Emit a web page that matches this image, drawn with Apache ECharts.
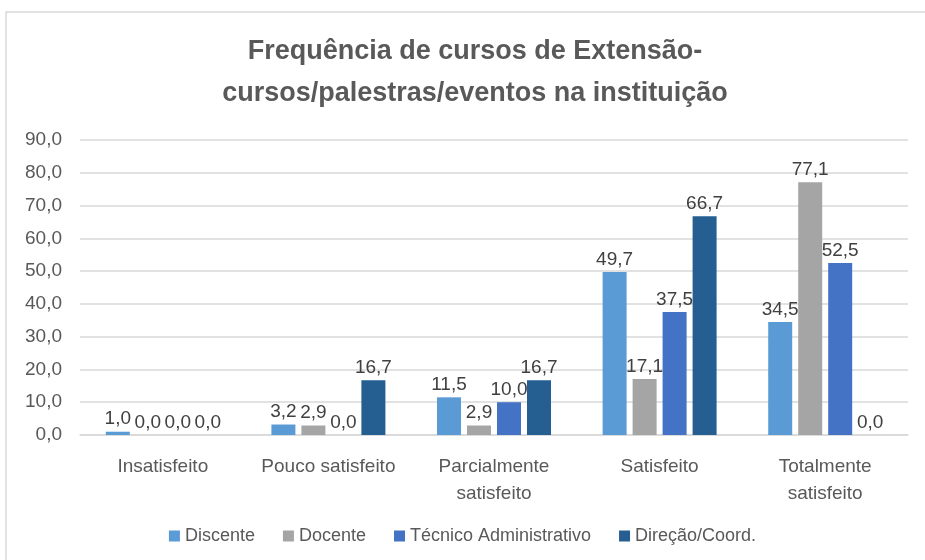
<!DOCTYPE html>
<html>
<head>
<meta charset="UTF-8">
<title>Frequência de cursos de Extensão</title>
<script src="https://cdn.jsdelivr.net/npm/echarts@6/dist/echarts.min.js"></script>
<style>
html, body { margin: 0; padding: 0; background: #fff; }
#container { width: 925px; height: 560px; }
</style>
</head>
<body>
<div id="container"></div>
<script type="text/javascript">
var categorias = ['Insatisfeito', 'Pouco satisfeito', 'Parcialmente\nsatisfeito', 'Satisfeito', 'Totalmente\nsatisfeito'];
var nomes = ['Discente', 'Docente', 'Técnico Administrativo', 'Direção/Coord.'];
var discente = [1.0, 3.2, 11.5, 49.7, 34.5];
var docente = [0.0, 2.9, 2.9, 17.1, 77.1];
var tecnico = [0.0, 0.0, 10.0, 37.5, 52.5];
var direcao = [0.0, 16.7, 16.7, 66.7, 0.0];
var cores = ['#5B9BD5', '#A5A5A5', '#4472C4', '#255E91'];

var fonte = 'Liberation Sans';
var dados = [discente, docente, tecnico, direcao];

var series = [];
for (var i = 0; i < nomes.length; i++) {
	series.push({
		name: nomes[i],
		type: 'bar',
		data: dados[i],
		barWidth: 24,
		barGap: '25%',
		itemStyle: { color: cores[i] },
		label: {
			show: true,
			position: 'top',
			distance: 3,
			color: '#404040',
			fontFamily: fonte,
			fontSize: 19,
			formatter: function (p) { return p.value.toFixed(1).replace('.', ','); }
		}
	});
}

var myChart = echarts.init(document.getElementById('container'));
var option = {
	animation: false,
	textStyle: { fontFamily: fonte },
	graphic: [{
		type: 'rect',
		shape: { x: 6, y: 12, width: 940, height: 560 },
		style: { fill: 'none', stroke: '#d9d9d9', lineWidth: 1.5 },
		silent: true
	}],
	title: {
		text: 'Frequência de cursos de Extensão-\ncursos/palestras/eventos na instituição',
		left: 470,
		top: 26,
		textAlign: 'center',
		textStyle: {
			color: '#595959',
			fontFamily: fonte,
			fontSize: 27,
			fontWeight: 'bold',
			lineHeight: 42
		}
	},
	legend: {
		data: nomes,
		bottom: 10,
		left: 'center',
		itemWidth: 11,
		itemHeight: 11,
		itemGap: 28,
		icon: 'rect',
		textStyle: { color: '#595959', fontFamily: fonte, fontSize: 18 }
	},
	grid: { left: 80, right: 17, top: 140, bottom: 125, containLabel: false },
	xAxis: {
		type: 'category',
		data: categorias,
		axisLine: { lineStyle: { color: '#d9d9d9', width: 1.5 } },
		axisTick: { show: false },
		axisLabel: { interval: 0, color: '#595959', fontFamily: fonte, fontSize: 19, margin: 18, lineHeight: 27 }
	},
	yAxis: {
		type: 'value',
		min: 0,
		max: 90,
		interval: 10,
		axisLine: { show: false },
		axisTick: { show: false },
		splitLine: { lineStyle: { color: '#d9d9d9', width: 1.5 } },
		axisLabel: {
			color: '#595959',
			fontFamily: fonte,
			fontSize: 19,
			margin: 18,
			formatter: function (v) { return v.toFixed(1).replace('.', ','); }
		}
	},
	series: series
};
myChart.setOption(option);
</script>
</body>
</html>
